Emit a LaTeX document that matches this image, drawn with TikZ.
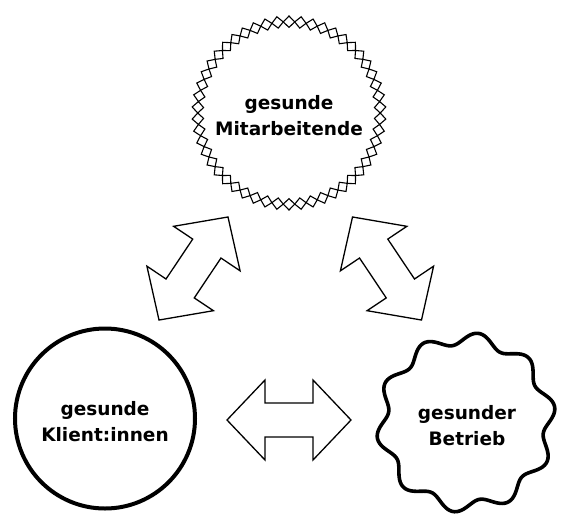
\documentclass[tikz,border=0pt]{standalone}
\usepackage{fontspec}
\setmainfont{DejaVu Sans}
\begin{document}
\begin{tikzpicture}[x=1pt,y=-1pt,
  lbl/.style={font=\fontsize{18.5}{26}\selectfont\bfseries, align=center, inner sep=0pt},
  ring/.style={draw, line width=4pt, circle, minimum size=180pt, inner sep=0pt},
  holder/.style={circle, minimum size=180pt, inner sep=0pt},
  diam/.style={draw, line width=1.1pt, line join=miter},
  wave/.style={draw, line width=3.6pt},
  arrowline/.style={draw, line width=1.3pt, line join=miter, fill=white},
  dblarrow/.pic={\path[arrowline] (62,0) -- (24,40) -- (24,17) -- (-24,17) -- (-24,40)
     -- (-62,0) -- (-24,-40) -- (-24,-17) -- (24,-17) -- (24,-40) -- cycle;}]
\useasboundingbox (0,0) rectangle (562,515);

% top: gesunde Mitarbeitende
\node[holder] (mitarb) at (289,113) {};
\begin{scope}[shift={(mitarb.center)}]
  \foreach \k in {0,...,49} {
    \pgfmathsetmacro{\aA}{\k*(360/50)}
    \pgfmathsetmacro{\aB}{(\k+0.5)*(360/50)}
    \pgfmathsetmacro{\aC}{(\k+1)*(360/50)}
    \path[diam] (\aA:91.3) -- (\aB:97) -- (\aC:91.3) -- (\aB:85.6) -- cycle;
  }
\end{scope}
\node[lbl] (mitarblbl) at (289,116) {gesunde\\Mitarbeitende};

% left: gesunde Klient:innen
\node[ring] (klient) at (105,418.5) {};
\node[lbl] (klientlbl) at (105,422) {gesunde\\Klient:innen};

% right: gesunder Betrieb
\node[holder] (betrieb) at (466,422.5) {};
\begin{scope}[shift={(betrieb.center)}]
  \path[wave] plot[smooth cycle, domain=0:358.5, samples=240] (\x:{84+6*cos(10*(\x-278))});
\end{scope}
\node[lbl] (betrieblbl) at (467,426) {gesunder\\Betrieb};

% arrows
\pic[rotate=56.2] (arrowL) at (193.5,268.5) {dblarrow};
\pic[rotate=123.8] (arrowR) at (387,268.5) {dblarrow};
\pic (arrowB) at (289,420) {dblarrow};
\end{tikzpicture}
\end{document}
